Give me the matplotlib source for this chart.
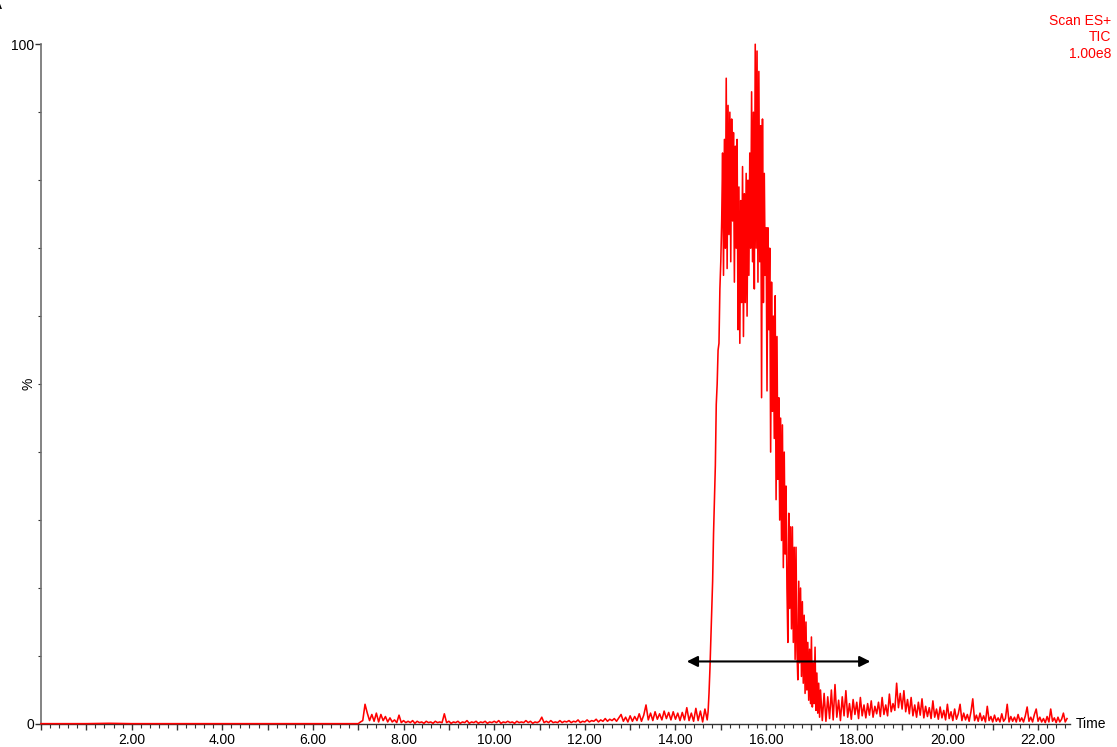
import numpy as np
import matplotlib
matplotlib.use("Agg")
import matplotlib.pyplot as plt
from matplotlib.ticker import MultipleLocator, FuncFormatter

plt.rcParams["font.family"] = ["Liberation Sans", "DejaVu Sans"]

# TIC trace in segments (start time, scan step, % values)
flat_start, flat_step = 0.0, 0.5
flat_vals = [0.05, 0.05, 0.05, 0.1, 0.05, 0.05, 0.05, 0.05, 0.05, 0.05, 0.05, 0.05, 0.05, 0.05]

early_start, early_step = 7.0, 0.05
early_vals = [
    0.05, 0.3, 0.5, 2.9, 1.6, 0.5, 1.4, 0.4, 1.6, 0.3,
    1.4, 0.5, 1.1, 0.3, 0.9, 0.3, 0.6, 0.2, 1.3, 0.2,
    0.5, 0.2, 0.4, 0.2, 0.5, 0.1, 0.4, 0.2, 0.3, 0.1,
    0.4, 0.2, 0.3, 0.1, 0.4, 0.2, 0.3, 0.2, 1.5, 0.2,
    0.4, 0.1, 0.3, 0.2, 0.4, 0.1, 0.3, 0.2, 0.5, 0.1,
    0.3, 0.2, 0.4, 0.1, 0.3, 0.2, 0.4, 0.1, 0.3, 0.2,
    0.4, 0.2, 0.5, 0.1, 0.3, 0.2, 0.4, 0.2, 0.3, 0.1,
    0.4, 0.2, 0.3, 0.2, 0.5, 0.2, 0.4, 0.1, 0.3, 0.2,
    0.4, 1.0, 0.2, 0.4, 0.2, 0.5, 0.2, 0.3, 0.2, 0.5,
    0.2, 0.4, 0.3, 0.5, 0.2, 0.4, 0.3, 0.6, 0.2, 0.4,
    0.3, 0.6, 0.3, 0.5, 0.4, 0.7, 0.3, 0.6, 0.4, 0.8,
    0.4, 0.7, 0.5, 0.8, 0.4, 0.9, 1.4,
]

hump_start, hump_step = 12.85, 0.05
hump_vals = [
    0.4, 1.0, 0.3, 1.2, 0.4, 1.1, 0.5, 1.5, 0.4, 1.3,
    2.8, 0.6, 1.6, 0.5, 1.8, 0.7, 1.5, 0.6, 1.9, 0.8,
    1.7, 0.6, 1.8, 0.7, 1.6, 0.5, 1.7, 0.6, 2.4, 0.5,
    1.6, 0.4, 2.3, 0.5, 1.9, 0.3, 2.2, 0.6,
]

peak_start, peak_step = 14.72, 0.02
peak_vals = [
    1.8, 4.5, 8.0, 12.5, 17.0, 21.0, 28.0, 33.0, 38.0, 47.0,
    50.0, 55.0, 56.0, 64.0, 68.0, 74.0, 84.0, 66.0, 86.0, 70.0,
    95.0, 67.0, 91.0, 72.0, 90.0, 68.0, 89.0, 74.0, 87.0, 65.0,
    85.0, 70.0, 86.0, 58.0, 79.0, 56.0, 77.0, 62.0, 82.0, 57.0,
    78.0, 62.0, 81.0, 60.0, 80.0, 66.0, 84.0, 70.0, 93.0, 68.0,
    90.0, 64.0, 100.0, 70.0, 99.0, 65.0, 96.0, 68.0, 88.0, 48.0,
    89.0, 62.0, 81.0, 66.0, 73.0, 49.0, 73.0, 58.0, 70.0, 40.0,
    65.0, 46.0, 60.0, 42.0, 63.0, 33.0, 57.0, 36.0, 48.0, 30.0,
    45.0, 27.0, 44.0, 23.0, 40.0, 25.0, 35.0, 20.0, 12.0, 31.0,
    17.0, 29.0, 14.0, 29.0, 12.0, 26.0, 9.5, 26.0, 11.0, 6.5,
    21.0, 9.0, 20.0, 7.0, 18.0, 6.0, 16.0, 4.5, 15.0, 5.0,
    12.0, 3.5, 11.0, 3.0, 12.8, 2.5, 9.0, 3.0, 11.3, 2.0,
    7.5, 1.6, 6.0, 1.0, 5.0,
]

tail_start, tail_step = 17.24, 0.04
tail_vals = [
    0.5, 4.5, 0.4, 4.0, 0.8, 5.0, 0.6, 5.8, 1.0, 3.5,
    0.5, 4.0, 1.2, 4.9, 1.0, 3.0, 0.7, 3.6, 1.4, 3.2,
    0.8, 3.9, 1.2, 2.8, 0.9, 3.0, 1.3, 3.4, 1.0, 2.6,
    1.5, 3.2, 1.1, 3.9, 1.4, 2.8, 1.2, 4.4, 1.8, 3.0,
    2.0, 6.0, 2.4, 4.5, 2.2, 4.9, 1.8, 3.6, 1.5, 3.9,
    1.2, 2.8, 1.0, 3.2, 1.3, 3.7, 0.9, 2.6, 1.1, 2.4,
    0.8, 3.4, 1.0, 2.2, 0.7, 2.5, 0.9, 2.0, 0.6, 2.9,
    0.8, 1.8, 0.5, 2.2, 0.7, 1.5, 2.9, 0.5, 1.6, 0.6,
    1.4, 0.4, 1.8, 3.7, 0.5, 1.3, 0.4, 1.6, 0.5, 1.2,
    0.3, 2.6, 0.5, 1.1, 0.3, 1.3, 0.4, 0.9, 0.3, 1.5,
    0.4, 0.8, 2.9, 0.3, 1.1, 0.4, 1.0, 0.3, 1.4, 0.4,
    0.9, 0.3, 1.2, 2.5, 0.4, 1.0, 0.3, 1.4, 2.2, 0.4,
    1.0, 0.3, 0.8, 0.2, 1.1, 0.3, 2.2, 0.4, 0.9, 0.2,
    1.0, 0.3, 0.7, 1.6, 0.3, 0.8,
]

segments = [
    (flat_start, flat_step, flat_vals),
    (early_start, early_step, early_vals),
    (hump_start, hump_step, hump_vals),
    (peak_start, peak_step, peak_vals),
    (tail_start, tail_step, tail_vals),
]

# annotation: double arrow across the peak
arrow_start, arrow_end, arrow_level = 14.25, 18.30, 9.2

x_max = 22.7
x_label_ticks = [2, 4, 6, 8, 10, 12, 14, 16, 18, 20, 22]

times = np.concatenate([s + st * np.arange(len(v)) for s, st, v in segments])
values = np.concatenate([np.asarray(v, dtype=float) for _, _, v in segments])

fig = plt.figure(figsize=(11.17, 7.47), dpi=100)
ax = fig.add_axes([0.0367, 0.0308, 0.921, 0.910])

ax.plot(times, values, color="#ff0000", linewidth=1.15, zorder=3, clip_on=False)

ax.annotate("", xy=(arrow_start, arrow_level), xytext=(arrow_end, arrow_level),
            arrowprops=dict(arrowstyle="<|-|>", color="black", lw=1.5,
                            mutation_scale=16, shrinkA=0, shrinkB=0))

ax.set_xlim(0, x_max)
ax.set_ylim(0, 100)

for side in ("top", "right"):
    ax.spines[side].set_visible(False)
ax.spines["left"].set_color("#6e6e6e")
ax.spines["left"].set_linewidth(1.2)
ax.spines["bottom"].set_color("#333333")
ax.spines["bottom"].set_linewidth(1.0)

# x ticks: long every minute, short every 0.2, labels every 2
ax.xaxis.set_major_locator(MultipleLocator(1.0))
ax.xaxis.set_minor_locator(MultipleLocator(0.2))
ax.xaxis.set_major_formatter(FuncFormatter(
    lambda v, p: f"{v:.2f}" if round(v) in x_label_ticks and abs(v - round(v)) < 1e-6 else ""))
ax.tick_params(axis="x", which="major", length=4.5, width=1.0, color="#333333",
               labelsize=10, pad=2)
ax.tick_params(axis="x", which="minor", length=3, width=0.8, color="#333333")

ax.set_yticks([0, 100])
ax.yaxis.set_minor_locator(MultipleLocator(10))
ax.tick_params(axis="y", which="major", length=4, width=1.0, color="#333333",
               labelsize=10, pad=1)
ax.tick_params(axis="y", which="minor", length=2.5, width=0.8, color="#333333")

ax.text(-0.012, 0.5, "%", transform=ax.transAxes, rotation=90,
        ha="center", va="center", fontsize=10)
ax.text(1.006, 0.0, "Time", transform=ax.transAxes, ha="left", va="center",
        fontsize=10)

fig.text(0.995, 0.981, "Scan ES+\nTIC\n1.00e8", ha="right", va="top",
         color="#ff0000", fontsize=10, linespacing=1.2)
fig.text(-0.009, 1.006, "A", ha="left", va="top", fontsize=13)

plt.savefig("out.png", dpi=100)
plt.close()
